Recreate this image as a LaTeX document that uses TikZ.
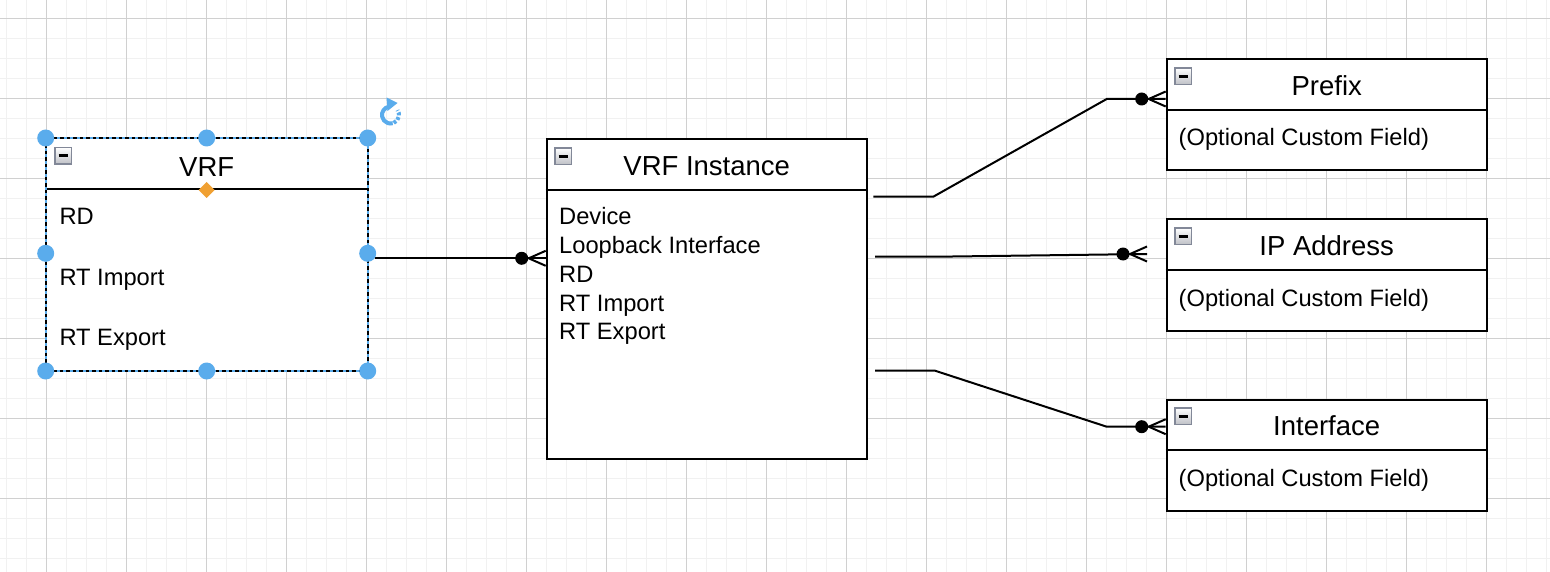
\documentclass[tikz,border=0pt]{standalone}
\usepackage{fontspec}
\setmainfont{Liberation Sans}
\definecolor{handleblue}{RGB}{90,172,236}
\definecolor{diamondorange}{RGB}{240,160,50}
\definecolor{gridminorc}{RGB}{241,241,241}
\definecolor{gridmajorc}{RGB}{208,208,208}
\definecolor{iconborder}{RGB}{130,136,152}
\definecolor{icongray}{RGB}{190,192,198}
\begin{document}
\begin{tikzpicture}[x=1pt,y=-1pt,
  entity/.style={draw=black, line width=2pt, fill=white, inner sep=0pt, minimum width=320pt, minimum height=111pt},
  ttl/.style={anchor=base, font=\fontsize{27.5}{33}\selectfont, inner sep=0pt},
  attr/.style={anchor=base west, font=\fontsize{23.7}{28}\selectfont, inner sep=0pt},
  conn/.style={line width=2pt, draw=black},
  hdl/.style={circle, fill=handleblue, inner sep=0pt, minimum size=17pt},
  gridminor/.style={draw=gridminorc, line width=1.5pt},
  gridmajor/.style={draw=gridmajorc, line width=1.1pt},
  minus icon/.pic={
    \draw[line width=1.5pt, draw=iconborder, top color=white, bottom color=icongray] (0,0) rectangle (16.5,16.5);
    \draw[line width=2.6pt] (3.5,8.25) -- (13,8.25);
  },
  erend/.pic={
    \fill[black] (-24,0) circle (6.5);
    \draw[line width=2pt] (-17,0) -- (0,-7.5);
    \draw[line width=2pt] (-17,0) -- (0,7.5);
  },
]
% background and grid
\fill[white] (0,0) rectangle (1550,572);
\useasboundingbox (0,0) rectangle (1550,572);
\foreach \x in {6.3,26.3,...,1550} \draw[gridminor] (\x,0) -- (\x,572);
\foreach \y in {18.3,38.3,...,572} \draw[gridminor] (0,\y) -- (1550,\y);
\foreach \x in {46.3,126.3,...,1550} \draw[gridmajor] (\x,0) -- (\x,572);
\foreach \y in {18.3,98.3,...,572} \draw[gridmajor] (0,\y) -- (1550,\y);

% entities
\node[entity, draw=none, minimum height=231pt] (vrf) at (206.7,254.5) {};
\node[entity, minimum height=319pt] (inst) at (706.7,299) {};
\node[entity] (prefix) at (1326.7,115) {};
\node[entity] (ip) at (1326.7,275) {};
\node[entity] (intf) at (1326.7,455) {};

% header lines
\foreach \n in {vrf,inst,prefix,ip,intf}
  \draw[line width=2pt] ([yshift=-51.5pt]\n.north west) -- ([yshift=-51.5pt]\n.north east);

% minus icons
\foreach \n in {vrf,inst,prefix,ip,intf}
  \pic at ([xshift=9.5pt,yshift=-9.5pt]\n.north west) {minus icon};

% titles
\node[ttl] (vrft) at (206.7,176.7) {VRF};
\node[ttl] (instt) at (706.7,175.7) {VRF Instance};
\node[ttl] (prefixt) at (1326.7,95.7) {Prefix};
\node[ttl] (ipt) at (1326.7,255.5) {IP Address};
\node[ttl] (intft) at (1326.7,435.7) {Interface};

% attributes
\node[attr] (vrfa1) at (59.3,225) {RD};
\node[attr] (vrfa2) at (59.3,285) {RT Import};
\node[attr] (vrfa3) at (59.3,345) {RT Export};
\node[attr] (insta1) at (559,225) {Device};
\node[attr] (insta2) at (559,254) {Loopback Interface};
\node[attr] (insta3) at (559,282.7) {RD};
\node[attr] (insta4) at (559,311) {RT Import};
\node[attr] (insta5) at (559,339.5) {RT Export};
\node[attr] (prefixa) at (1178.5,145.5) {(Optional Custom Field)};
\node[attr] (ipa) at (1178.5,306.5) {(Optional Custom Field)};
\node[attr] (intfa) at (1178.5,486.7) {(Optional Custom Field)};

% connectors
\coordinate (c1s) at (375,258.3);
\draw[conn] (c1s) -- (inst.west |- c1s);
\pic at (inst.west |- c1s) {erend};

\coordinate (c2s) at (873.3,196.7);
\coordinate (c2a) at (933.3,196.7);
\coordinate (c2b) at (1106.7,99);
\draw[conn] (c2s) -- (c2a) -- (c2b) -- (prefix.west |- c2b);
\pic at (prefix.west |- c2b) {erend};

\coordinate (c3s) at (875,256.7);
\coordinate (c3a) at (937,256.7);
\coordinate (c3e) at (1147,254);
\draw[conn] (c3s) -- (c3a) -- (c3e);
\pic at (c3e) {erend};

\coordinate (c4s) at (875,370.7);
\coordinate (c4a) at (935,370.7);
\coordinate (c4b) at (1106.7,426.7);
\draw[conn] (c4s) -- (c4a) -- (c4b) -- (intf.west |- c4b);
\pic at (intf.west |- c4b) {erend};

% selected VRF border: black dashes over blue
\draw[handleblue, line width=1.8pt] (vrf.north west) rectangle (vrf.south east);
\draw[black, line width=1.8pt, dash pattern=on 3.5pt off 3pt] (vrf.north west) rectangle (vrf.south east);
\node[hdl] (h1) at (vrf.north west) {};
\node[hdl] (h2) at (vrf.north) {};
\node[hdl] (h3) at (vrf.north east) {};
\node[hdl] (h4) at ([yshift=1.2pt]vrf.west) {};
\node[hdl] (h5) at ([yshift=1.2pt]vrf.east) {};
\node[hdl] (h6) at (vrf.south west) {};
\node[hdl] (h7) at (vrf.south) {};
\node[hdl] (h8) at (vrf.south east) {};
\fill[diamondorange] (206.7,182) -- (214.7,190) -- (206.7,198) -- (198.7,190) -- cycle;

% rotate icon
\begin{scope}[shift={(390.5,115)}, y=1pt]
  \draw[handleblue, line width=4pt] (100:8.5) arc[start angle=100, end angle=285, radius=8.5];
  \draw[handleblue, line width=4pt, dash pattern=on 3pt off 1.8pt] (292:8.5) arc[start angle=292, end angle=395, radius=8.5];
  \fill[handleblue] (-4,17.5) -- (7,12) -- (-3,4) -- cycle;
\end{scope}
\end{tikzpicture}
\end{document}
